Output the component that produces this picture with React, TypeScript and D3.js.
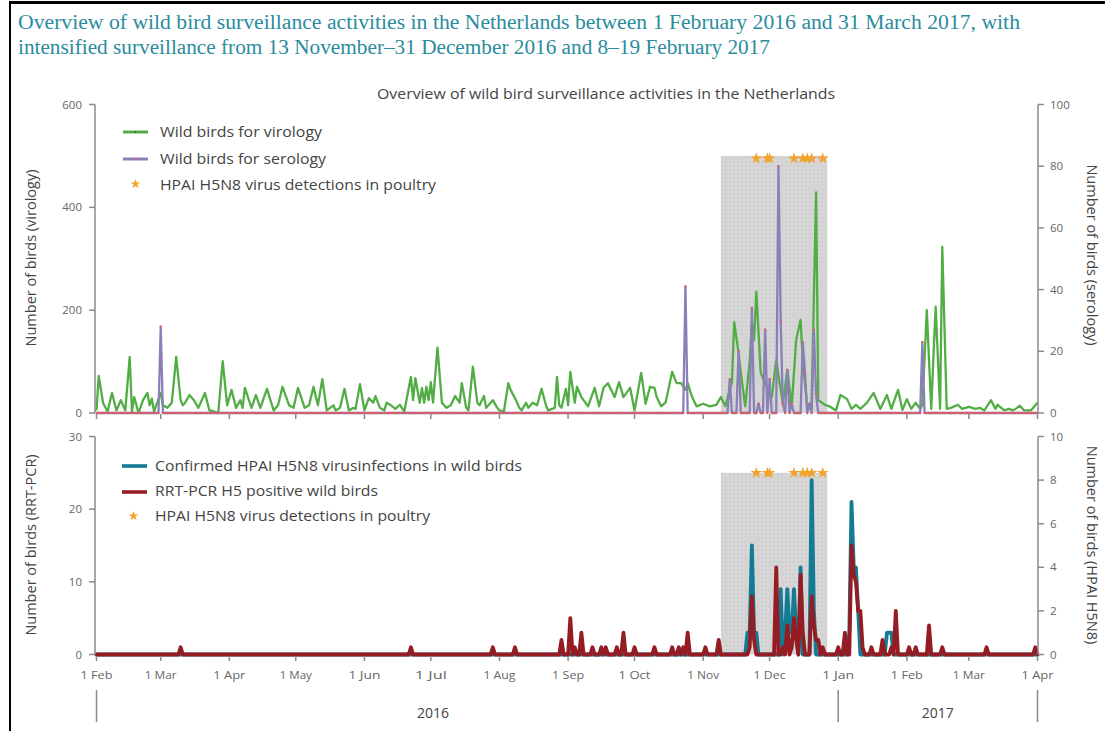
import React from 'react';
import * as d3 from 'd3';

const titleLines = [
  'Overview of wild bird surveillance activities in the Netherlands between 1 February 2016 and 31 March 2017, with',
  'intensified surveillance from 13 November\u201331 December 2016 and 8\u201319 February 2017',
];
const chartTitle = 'Overview of wild bird surveillance activities in the Netherlands';

const periodStart = '2016-02-01';
const periodEnd = '2017-04-01';
const intensifiedPeriod = ['2016-11-09', '2016-12-27'];

// Wild birds sampled for virology (left axis, top panel)
const virology: [string, number][] = [
  ['2016-02-01', 5], ['2016-02-02', 72], ['2016-02-04', 19], ['2016-02-06', 3], ['2016-02-08', 39], ['2016-02-10', 5],
  ['2016-02-12', 25], ['2016-02-14', 5], ['2016-02-16', 109], ['2016-02-17', 3], ['2016-02-18', 31], ['2016-02-20', 0],
  ['2016-02-22', 25], ['2016-02-24', 39], ['2016-02-25', 15], ['2016-02-26', 28], ['2016-02-27', 3], ['2016-03-01', 39],
  ['2016-03-02', 15], ['2016-03-04', 10], ['2016-03-06', 20], ['2016-03-08', 109], ['2016-03-10', 25], ['2016-03-11', 15],
  ['2016-03-12', 20], ['2016-03-14', 35], ['2016-03-16', 25], ['2016-03-18', 10], ['2016-03-21', 39], ['2016-03-23', 5],
  ['2016-03-25', 3], ['2016-03-27', 0], ['2016-03-29', 101], ['2016-03-31', 15], ['2016-04-02', 45], ['2016-04-04', 10],
  ['2016-04-06', 25], ['2016-04-07', 10], ['2016-04-08', 49], ['2016-04-11', 10], ['2016-04-13', 35], ['2016-04-15', 10],
  ['2016-04-18', 47], ['2016-04-21', 5], ['2016-04-23', 15], ['2016-04-25', 51], ['2016-04-28', 15], ['2016-04-30', 10],
  ['2016-05-02', 49], ['2016-05-05', 10], ['2016-05-07', 15], ['2016-05-09', 51], ['2016-05-11', 15], ['2016-05-13', 66],
  ['2016-05-15', 5], ['2016-05-18', 15], ['2016-05-19', 5], ['2016-05-21', 10], ['2016-05-23', 47], ['2016-05-25', 5],
  ['2016-05-27', 10], ['2016-05-28', 8], ['2016-05-30', 56], ['2016-06-01', 5], ['2016-06-03', 29], ['2016-06-05', 20],
  ['2016-06-06', 33], ['2016-06-08', 10], ['2016-06-10', 5], ['2016-06-11', 20], ['2016-06-13', 15], ['2016-06-15', 8],
  ['2016-06-17', 16], ['2016-06-19', 3], ['2016-06-22', 70], ['2016-06-23', 25], ['2016-06-24', 68], ['2016-06-26', 20],
  ['2016-06-27', 49], ['2016-06-28', 20], ['2016-06-29', 51], ['2016-06-30', 25], ['2016-07-01', 60], ['2016-07-02', 20],
  ['2016-07-04', 127], ['2016-07-06', 20], ['2016-07-08', 10], ['2016-07-10', 15], ['2016-07-12', 33], ['2016-07-14', 20],
  ['2016-07-15', 58], ['2016-07-17', 10], ['2016-07-18', 5], ['2016-07-20', 90], ['2016-07-22', 20], ['2016-07-23', 15],
  ['2016-07-25', 33], ['2016-07-26', 10], ['2016-07-29', 25], ['2016-07-31', 10], ['2016-08-01', 5], ['2016-08-03', 3],
  ['2016-08-05', 58], ['2016-08-06', 45], ['2016-08-08', 29], ['2016-08-10', 10], ['2016-08-11', 5], ['2016-08-13', 20],
  ['2016-08-14', 10], ['2016-08-16', 20], ['2016-08-18', 15], ['2016-08-20', 47], ['2016-08-22', 15], ['2016-08-23', 5],
  ['2016-08-26', 10], ['2016-08-27', 70], ['2016-08-28', 15], ['2016-08-29', 10], ['2016-08-31', 47], ['2016-09-01', 15],
  ['2016-09-02', 80], ['2016-09-04', 20], ['2016-09-05', 51], ['2016-09-07', 31], ['2016-09-10', 13], ['2016-09-13', 49],
  ['2016-09-15', 13], ['2016-09-17', 49], ['2016-09-19', 58], ['2016-09-22', 31], ['2016-09-24', 60], ['2016-09-26', 31],
  ['2016-09-29', 49], ['2016-10-01', 5], ['2016-10-04', 78], ['2016-10-06', 18], ['2016-10-08', 51], ['2016-10-10', 49],
  ['2016-10-11', 31], ['2016-10-13', 13], ['2016-10-15', 20], ['2016-10-18', 80], ['2016-10-20', 58], ['2016-10-22', 58],
  ['2016-10-24', 45], ['2016-10-25', 58], ['2016-10-27', 31], ['2016-10-29', 13], ['2016-11-01', 18], ['2016-11-04', 13],
  ['2016-11-07', 16], ['2016-11-09', 31], ['2016-11-11', 13], ['2016-11-14', 60], ['2016-11-15', 177], ['2016-11-17', 117],
  ['2016-11-18', 78], ['2016-11-20', 13], ['2016-11-22', 100], ['2016-11-23', 177], ['2016-11-24', 142], ['2016-11-25', 236],
  ['2016-11-27', 78], ['2016-11-29', 58], ['2016-12-02', 31], ['2016-12-04', 103], ['2016-12-07', 18], ['2016-12-09', 84],
  ['2016-12-11', 13], ['2016-12-13', 142], ['2016-12-15', 181], ['2016-12-16', 100], ['2016-12-18', 13], ['2016-12-20', 20],
  ['2016-12-22', 429], ['2016-12-23', 25], ['2016-12-26', 16], ['2016-12-28', 13], ['2016-12-31', 5], ['2017-01-02', 35],
  ['2017-01-05', 27], ['2017-01-07', 8], ['2017-01-09', 16], ['2017-01-11', 8], ['2017-01-14', 20], ['2017-01-17', 39],
  ['2017-01-20', 8], ['2017-01-23', 35], ['2017-01-25', 8], ['2017-01-28', 45], ['2017-01-30', 6], ['2017-02-01', 27],
  ['2017-02-03', 8], ['2017-02-05', 20], ['2017-02-07', 8], ['2017-02-08', 15], ['2017-02-10', 200], ['2017-02-12', 8],
  ['2017-02-14', 207], ['2017-02-16', 8], ['2017-02-17', 323], ['2017-02-19', 8], ['2017-02-21', 10], ['2017-02-24', 16],
  ['2017-02-26', 8], ['2017-03-01', 12], ['2017-03-04', 8], ['2017-03-06', 10], ['2017-03-08', 5], ['2017-03-11', 25],
  ['2017-03-13', 8], ['2017-03-14', 16], ['2017-03-17', 5], ['2017-03-19', 8], ['2017-03-21', 5], ['2017-03-24', 14],
  ['2017-03-26', 5], ['2017-03-29', 5], ['2017-04-01', 20],
];

// Wild birds sampled for serology (right axis, top panel); days not listed are 0
const serology: [string, number][] = [
  ['2016-03-01', 28], ['2016-10-24', 41], ['2016-11-13', 11], ['2016-11-17', 20], ['2016-11-23', 34], ['2016-11-26', 3],
  ['2016-11-29', 27], ['2016-12-01', 11], ['2016-12-05', 80], ['2016-12-06', 30], ['2016-12-07', 3], ['2016-12-09', 14],
  ['2016-12-11', 3], ['2016-12-16', 23], ['2016-12-17', 13], ['2016-12-19', 3], ['2016-12-21', 27], ['2016-12-22', 6],
  ['2017-02-08', 23],
];

// Confirmed HPAI H5N8 infections in wild birds (right axis, bottom panel); days not listed are 0
const confirmedHpai: [string, number][] = [
  ['2016-11-21', 1], ['2016-11-22', 1], ['2016-11-23', 5], ['2016-11-24', 1], ['2016-11-25', 1], ['2016-12-06', 3],
  ['2016-12-08', 1], ['2016-12-09', 3], ['2016-12-10', 1], ['2016-12-11', 1], ['2016-12-12', 3], ['2016-12-13', 1],
  ['2016-12-15', 4], ['2016-12-20', 8], ['2016-12-21', 2], ['2017-01-06', 1], ['2017-01-07', 7], ['2017-01-08', 4],
  ['2017-01-09', 4], ['2017-01-10', 2], ['2017-01-23', 1], ['2017-01-24', 1], ['2017-01-25', 1],
];

// RRT-PCR H5 positive wild birds (left axis, bottom panel); days not listed are 0
const rrtPcr: [string, number][] = [
  ['2016-03-10', 1], ['2016-06-22', 1], ['2016-07-29', 1], ['2016-08-08', 1], ['2016-08-29', 2], ['2016-09-02', 5],
  ['2016-09-04', 1], ['2016-09-07', 3], ['2016-09-12', 1], ['2016-09-16', 1], ['2016-09-18', 1], ['2016-09-23', 1],
  ['2016-09-26', 3], ['2016-10-01', 1], ['2016-10-10', 1], ['2016-10-18', 1], ['2016-10-21', 1], ['2016-10-23', 1],
  ['2016-10-25', 3], ['2016-11-02', 1], ['2016-11-08', 2], ['2016-11-22', 1], ['2016-11-23', 8], ['2016-11-24', 2],
  ['2016-12-04', 12], ['2016-12-07', 1], ['2016-12-09', 4], ['2016-12-11', 1], ['2016-12-12', 5], ['2016-12-13', 2],
  ['2016-12-15', 11], ['2016-12-16', 3], ['2016-12-20', 8], ['2016-12-21', 4], ['2016-12-22', 2], ['2016-12-23', 2],
  ['2016-12-25', 1], ['2017-01-01', 1], ['2017-01-04', 3], ['2017-01-07', 15], ['2017-01-08', 11], ['2017-01-09', 10],
  ['2017-01-10', 6], ['2017-01-11', 6], ['2017-01-12', 1], ['2017-01-16', 1], ['2017-01-21', 2], ['2017-01-25', 1],
  ['2017-01-27', 6], ['2017-02-02', 1], ['2017-02-05', 1], ['2017-02-11', 4], ['2017-02-17', 1], ['2017-03-09', 1],
  ['2017-03-31', 1],
];

// HPAI H5N8 virus detections in poultry
const poultryDetections = [
  '2016-11-25', '2016-11-30', '2016-12-01', '2016-12-12', '2016-12-16', '2016-12-18', '2016-12-20', '2016-12-25',
];

const virologyTicks = [0, 200, 400, 600];
const serologyTicks = [0, 20, 40, 60, 80, 100];
const pcrTicks = [0, 10, 20, 30];
const hpaiTicks = [0, 2, 4, 6, 8, 10];
const topBandHeight = 500; // virology units
const bottomBandHeight = 25; // RRT-PCR units
const yearBounds = ['2016-02-01', '2017-01-01', '2017-04-01'];
const yearLabels: [string, string][] = [['2016', '2016-07-02'], ['2017', '2017-02-15']];

const legendTop = ['Wild birds for virology', 'Wild birds for serology', 'HPAI H5N8 virus detections in poultry'];
const legendBottom = [
  'Confirmed HPAI H5N8 virusinfections in wild birds',
  'RRT-PCR H5 positive wild birds',
  'HPAI H5N8 virus detections in poultry',
];

const parse = d3.utcParse('%Y-%m-%d');
const fmt = d3.utcFormat('%Y-%m-%d');

function daily(sparse: [string, number][]): [Date, number][] {
  const m = new Map(sparse.map(([d, v]) => [d, v]));
  const days = d3.utcDay.range(parse(periodStart)!, d3.utcDay.offset(parse(periodEnd)!, 1));
  return days.map((d) => [d, m.get(fmt(d)) ?? 0]);
}

const C = {
  green: '#52ad45',
  purple: '#8a80b8',
  dot: '#dd5a62',
  teal: '#147b95',
  red: '#951c23',
  star: '#f3a22d',
  axis: '#8a8a8a',
  text: '#444444',
  tick: '#666666',
  title: '#2a8c9d',
};

const FONT = "'Open Sans', 'Noto Sans', sans-serif";

export default function App() {
  const x = d3.scaleUtc().domain([parse(periodStart)!, parse(periodEnd)!]).range([96.5, 1037.5]);
  const yVir = d3.scaleLinear().domain([0, 600]).range([413, 104.5]);
  const ySer = d3.scaleLinear().domain([0, 100]).range([413, 104.5]);
  const yPcr = d3.scaleLinear().domain([0, 30]).range([654.5, 436.5]);
  const yHpai = d3.scaleLinear().domain([0, 10]).range([654.5, 436.5]);

  const virPts = virology.map(([d, v]) => [parse(d)!, v] as [Date, number]);
  const serPts = daily(serology);
  const hpaiPts = daily(confirmedHpai);
  const pcrPts = daily(rrtPcr);

  const lineVir = d3.line<[Date, number]>().x((d) => x(d[0])).y((d) => yVir(d[1]));
  const lineSer = d3.line<[Date, number]>().x((d) => x(d[0])).y((d) => ySer(d[1]));
  const lineHpai = d3.line<[Date, number]>().x((d) => x(d[0])).y((d) => yHpai(d[1]));
  const linePcr = d3.line<[Date, number]>().x((d) => x(d[0])).y((d) => yPcr(d[1]));

  const months = d3.utcMonth.range(parse(periodStart)!, d3.utcDay.offset(parse(periodEnd)!, 1));
  const monthFmt = d3.utcFormat('%b');
  const star = d3.symbol().type(d3.symbolStar);
  const bx0 = x(parse(intensifiedPeriod[0])!);
  const bx1 = x(parse(intensifiedPeriod[1])!);

  const yAxisLeft = (scale: d3.ScaleLinear<number, number>, ticks: number[], xPos: number) => (
    <g>
      <line x1={xPos} x2={xPos} y1={scale(ticks[0])} y2={scale(ticks[ticks.length - 1])} stroke={C.axis} strokeWidth={1.5} />
      {ticks.map((t) => (
        <g key={t}>
          <line x1={xPos - 6} x2={xPos} y1={scale(t)} y2={scale(t)} stroke={C.axis} strokeWidth={1.5} />
          <text x={xPos - 13} y={scale(t) + 4} textAnchor="end" fontSize={11.5} fill={C.tick} fontFamily={FONT}>{t}</text>
        </g>
      ))}
    </g>
  );
  const yAxisRight = (scale: d3.ScaleLinear<number, number>, ticks: number[], xPos: number) => (
    <g>
      <line x1={xPos} x2={xPos} y1={scale(ticks[0])} y2={scale(ticks[ticks.length - 1])} stroke={C.axis} strokeWidth={1.5} />
      {ticks.map((t) => (
        <g key={t}>
          <line x1={xPos} x2={xPos + 6} y1={scale(t)} y2={scale(t)} stroke={C.axis} strokeWidth={1.5} />
          <text x={xPos + 12} y={scale(t) + 4} textAnchor="start" fontSize={11.5} fill={C.tick} fontFamily={FONT}>{t}</text>
        </g>
      ))}
    </g>
  );

  return (
    <svg width={1105} height={731} style={{ position: 'absolute', left: 0, top: 0, background: '#fff' }}>
      <defs>
        <pattern id="dots" width={4} height={4} patternUnits="userSpaceOnUse">
          <rect width={4} height={4} fill="#d6d6d6" />
          <circle cx={2} cy={2} r={0.8} fill="#c6c6c6" />
        </pattern>
      </defs>
      <rect x={0} y={0} width={1105} height={731} fill="#fff" />
      {/* frame */}
      <line x1={9} x2={1105} y1={2.5} y2={2.5} stroke="#000" strokeWidth={3} />
      <line x1={10} x2={10} y1={1} y2={731} stroke="#000" strokeWidth={2} />

      {/* titles */}
      {titleLines.map((t, i) => (
        <text key={i} x={18} y={29 + i * 25} fontSize={20} fill={C.title} fontFamily="'Liberation Serif', 'DejaVu Serif', serif"
          textLength={i === 0 ? 1002 : 752} lengthAdjust="spacingAndGlyphs">{t}</text>
      ))}
      <text x={606} y={99} textAnchor="middle" fontSize={14} fill={C.text} fontFamily={FONT} textLength={458} lengthAdjust="spacingAndGlyphs">{chartTitle}</text>

      {/* ===== top panel ===== */}
      <rect x={bx0} width={bx1 - bx0} y={yVir(topBandHeight)} height={yVir(0) - yVir(topBandHeight)} fill="url(#dots)" />
      <path d={lineVir(virPts)!} fill="none" stroke={C.green} strokeWidth={2.3} strokeLinejoin="round" />
      <path d={lineSer(serPts)!} fill="none" stroke={C.purple} strokeWidth={2.3} strokeLinejoin="round" />
      {serPts.map(([d, v], i) => (
        <circle key={i} cx={x(d)} cy={ySer(v)} r={1.15} fill={C.dot} />
      ))}
      {poultryDetections.map((d) => (
        <path key={d} d={star.size(42)()!} transform={`translate(${x(parse(d)!)},${yVir(topBandHeight) + 2.5})`} fill={C.star} />
      ))}
      {yAxisLeft(yVir, virologyTicks, 95)}
      {yAxisRight(ySer, serologyTicks, 1038)}
      {months.map((m) => (
        <line key={+m} x1={x(m)} x2={x(m)} y1={414} y2={419} stroke={C.axis} strokeWidth={1.5} />
      ))}
      <text transform="translate(36,258) rotate(-90)" textAnchor="middle" fontSize={14.5} fill={C.text} fontFamily={FONT}>Number of birds (virology)</text>
      <text transform="translate(1087,255) rotate(90)" textAnchor="middle" fontSize={14.5} fill={C.text} fontFamily={FONT}>Number of birds (serology)</text>

      {/* top legend */}
      <line x1={123} x2={148} y1={132} y2={132} stroke={C.green} strokeWidth={3} />
      <circle cx={135.5} cy={132} r={1} fill="#2d6e2a" />
      <line x1={123} x2={148} y1={159} y2={159} stroke={C.purple} strokeWidth={3} />
      <circle cx={135.5} cy={159} r={1} fill={C.dot} />
      <path d={star.size(30)()!} transform="translate(135.5,184)" fill={C.star} />
      {legendTop.map((t, i) => (
        <text key={t} x={160} y={137 + i * 26.5} fontSize={15} fill={C.text} fontFamily={FONT}
          textLength={[162, 166, 276][i]} lengthAdjust="spacingAndGlyphs">{t}</text>
      ))}

      {/* ===== bottom panel ===== */}
      <rect x={bx0} width={bx1 - bx0} y={yPcr(bottomBandHeight)} height={yPcr(0) - yPcr(bottomBandHeight)} fill="url(#dots)" />
      <path d={lineHpai(hpaiPts)!} fill="none" stroke={C.teal} strokeWidth={3.8} strokeLinejoin="round" strokeLinecap="round" />
      <path d={linePcr(pcrPts)!} fill="none" stroke={C.red} strokeWidth={3.8} strokeLinejoin="round" strokeLinecap="round" />
      {poultryDetections.map((d) => (
        <path key={d} d={star.size(42)()!} transform={`translate(${x(parse(d)!)},${yPcr(bottomBandHeight)})`} fill={C.star} />
      ))}
      {yAxisLeft(yPcr, pcrTicks, 95)}
      {yAxisRight(yHpai, hpaiTicks, 1038)}
      {months.map((m) => (
        <g key={+m}>
          <line x1={x(m)} x2={x(m)} y1={656} y2={661} stroke={C.axis} strokeWidth={1.5} />
          <text x={x(m)} y={679} textAnchor="middle" fontSize={11.5} fill={C.tick} fontFamily={FONT}
            textLength={32} lengthAdjust="spacingAndGlyphs">{`1 ${monthFmt(m)}`}</text>
        </g>
      ))}
      <text transform="translate(36,545) rotate(-90)" textAnchor="middle" fontSize={14.5} fill={C.text} fontFamily={FONT}>Number of birds (RRT-PCR)</text>
      <text transform="translate(1087,545) rotate(90)" textAnchor="middle" fontSize={14.5} fill={C.text} fontFamily={FONT}>Number of birds (HPAI H5N8)</text>

      {/* bottom legend */}
      <line x1={122} x2={147} y1={466} y2={466} stroke={C.teal} strokeWidth={3.6} />
      <line x1={122} x2={147} y1={492} y2={492} stroke={C.red} strokeWidth={3.6} />
      <path d={star.size(30)()!} transform="translate(133.5,516)" fill={C.star} />
      {legendBottom.map((t, i) => (
        <text key={t} x={155} y={471 + i * 25} fontSize={15} fill={C.text} fontFamily={FONT}
          textLength={[367, 223, 275][i]} lengthAdjust="spacingAndGlyphs">{t}</text>
      ))}

      {/* year axis */}
      {yearBounds.map((d) => (
        <line key={d} x1={x(parse(d)!)} x2={x(parse(d)!)} y1={690} y2={722} stroke={C.axis} strokeWidth={1.5} />
      ))}
      {yearLabels.map(([l, d]) => (
        <text key={l} x={x(parse(d)!)} y={718} textAnchor="middle" fontSize={14} fill={C.text} fontFamily={FONT}>{l}</text>
      ))}
    </svg>
  );
}
